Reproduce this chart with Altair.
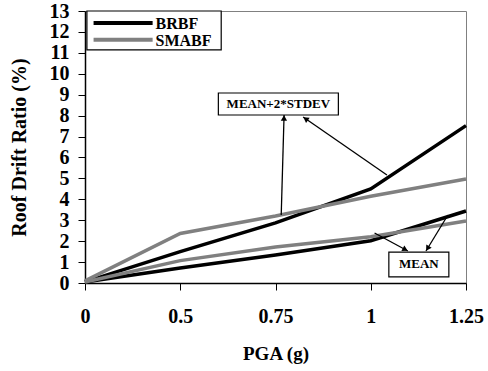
import math
import altair as alt
import pandas as pd

# ---- data ----
pga_labels = ["0", "0.5", "0.75", "1", "1.25"]
y_ticks = list(range(0, 14))
brbf_mean = [0.05, 0.72, 1.34, 2.02, 3.44]
brbf_m2sd = [0.05, 1.50, 2.87, 4.50, 7.52]
smabf_mean = [0.05, 1.07, 1.72, 2.21, 2.96]
smabf_m2sd = [0.10, 2.37, 3.20, 4.15, 4.97]

series_names = ["BRBF", "SMABF"]
series_colors = ["black", "#808080"]

# legend box & entries (x in category-index units, y in %)
leg_box = {"x1": 0.02, "x2": 1.43, "y1": 13.0, "y2": 11.14}
leg_line_x1 = 0.09
leg_line_x2 = 0.71
leg_text_x = 0.74
leg_y = [12.43, 11.62]

# annotation boxes
box_text = ["MEAN+2*STDEV", "MEAN"]
box_x1 = [1.40, 3.19]
box_x2 = [2.66, 3.82]
box_y1 = [9.08, 1.48]
box_y2 = [8.03, 0.29]
box_tx = [2.03, 3.505]
box_ty = [8.56, 0.89]

# arrows: start (on line) -> end (at box)
arr_x1 = [2.06, 3.17, 3.04, 3.81]
arr_y1 = [3.25, 5.16, 2.39, 3.25]
arr_x2 = [2.09, 2.29, 3.39, 3.58]
arr_y2 = [8.03, 7.93, 1.53, 1.53]

W, H = 381, 272
XMAX, YMAX = 4, 13
px_x = W / XMAX
px_y = H / YMAX

FONT = "Liberation Serif"

rows = []
for series, stat, vals in [("BRBF", "mean", brbf_mean), ("BRBF", "m2sd", brbf_m2sd),
                           ("SMABF", "mean", smabf_mean), ("SMABF", "m2sd", smabf_m2sd)]:
    for i, v in enumerate(vals):
        rows.append({"idx": i, "val": v, "series": series, "stat": stat})
df = pd.DataFrame(rows)

xscale = alt.Scale(domain=[0, XMAX], nice=False, zero=False)
yscale = alt.Scale(domain=[0, YMAX], nice=False)
cscale = alt.Scale(domain=series_names, range=series_colors)

label_expr = "[" + ",".join(f"'{l}'" for l in pga_labels) + "][datum.value]"

xaxis = alt.Axis(title="PGA (g)", values=list(range(len(pga_labels))),
                 labelExpr=label_expr, grid=False, domainColor="black",
                 domainWidth=1.5, tickColor="black", tickSize=7,
                 labelPadding=16, labelFontSize=20, titleFontSize=19,
                 titlePadding=18, labelFlush=False, labelOverlap=False)
yaxis = alt.Axis(title="Roof Drift Ratio (%)", values=y_ticks,
                 grid=False, domainColor="black", domainWidth=1.5,
                 tickColor="black", tickSize=7, labelPadding=9,
                 labelFontSize=20, titleFontSize=20, titlePadding=20,
                 labelOverlap=False, labelBound=False)


def X(f):
    return alt.X(f, scale=xscale, axis=xaxis, title="PGA (g)")


def Y(f):
    return alt.Y(f, scale=yscale, axis=yaxis, title="Roof Drift Ratio (%)")


lines = alt.Chart(df).mark_line(strokeWidth=3.5).encode(
    x=X("idx:Q"), y=Y("val:Q"),
    color=alt.Color("series:N", scale=cscale, legend=None),
    detail="stat:N",
)

# manual legend
legbox_df = pd.DataFrame([leg_box])
leg_rect = alt.Chart(legbox_df).mark_rect(fill="white", stroke="black", strokeWidth=1.2).encode(
    x=X("x1:Q"), x2="x2:Q", y=Y("y1:Q"), y2="y2:Q")
leg_df = pd.DataFrame({"series": series_names, "y": leg_y,
                       "lx1": [leg_line_x1] * 2, "lx2": [leg_line_x2] * 2,
                       "tx": [leg_text_x] * 2})
leg_lines = alt.Chart(leg_df).mark_rule(strokeWidth=4).encode(
    x=X("lx1:Q"), x2="lx2:Q", y=Y("y:Q"),
    color=alt.Color("series:N", scale=cscale, legend=None))
leg_text = alt.Chart(leg_df).mark_text(font=FONT, fontWeight="bold", fontSize=16,
                                       align="left", baseline="middle", dy=1).encode(
    x=X("tx:Q"), y=Y("y:Q"), text="series:N")

boxes = pd.DataFrame({"t": box_text, "x1": box_x1, "x2": box_x2, "y1": box_y1,
                      "y2": box_y2, "tx": box_tx, "ty": box_ty})
rect = alt.Chart(boxes).mark_rect(fill="white", stroke="black", strokeWidth=1.2).encode(
    x=X("x1:Q"), x2="x2:Q", y=Y("y1:Q"), y2="y2:Q")
txt = alt.Chart(boxes).mark_text(font=FONT, fontWeight="bold", fontSize=13,
                                 baseline="middle", align="center").encode(
    x=X("tx:Q"), y=Y("ty:Q"), text="t:N")

# arrow heads
heads = []
for x1, y1, x2, y2 in zip(arr_x1, arr_y1, arr_x2, arr_y2):
    dx = (x2 - x1) * px_x
    dy = -(y2 - y1) * px_y
    ang = math.degrees(math.atan2(dx, -dy)) % 360
    L = math.hypot(dx, dy)
    back = 3.0
    hx = x2 - (dx / L) * back / px_x
    hy = y2 + (dy / L) * back / px_y
    heads.append({"hx": hx, "hy": hy, "ang": ang})
arrows = pd.DataFrame({"x1": arr_x1, "y1": arr_y1, "x2": arr_x2, "y2": arr_y2})
hdf = pd.DataFrame(heads)

shafts = alt.Chart(arrows).mark_rule(color="black", strokeWidth=1.3).encode(
    x=X("x1:Q"), y=Y("y1:Q"), x2="x2:Q", y2="y2:Q")
tips = alt.Chart(hdf).mark_point(shape="triangle-up", filled=True, color="black",
                                 size=40, opacity=1).encode(
    x=X("hx:Q"), y=Y("hy:Q"), angle=alt.Angle("ang:Q", scale=None))

chart = alt.layer(lines, shafts, tips, rect, txt, leg_rect, leg_lines, leg_text).properties(
    width=W, height=H,
    autosize=alt.AutoSizeParams(type="none"),
    padding={"left": 85, "top": 11, "right": 22, "bottom": 88},
).configure(font=FONT).configure_axis(
    labelFont=FONT, titleFont=FONT, labelFontWeight="bold", titleFontWeight="bold",
    labelColor="black", titleColor="black", labelOverlap=False,
).configure_view(stroke="#808080", strokeWidth=1)

chart.save("out.html", embed_options={"renderer": "svg", "actions": False})
